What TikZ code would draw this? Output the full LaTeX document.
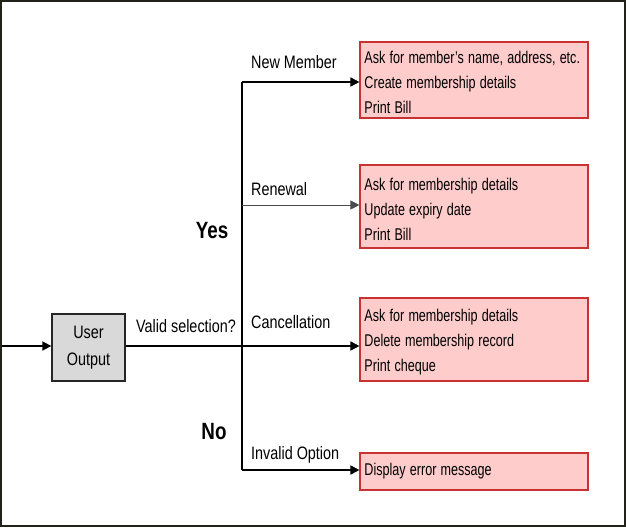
\documentclass[tikz,border=0pt]{standalone}
\usepackage{fontspec}
\setmainfont{Liberation Sans}
\usetikzlibrary{arrows.meta}
\definecolor{framec}{RGB}{34,34,26}
\definecolor{pinkfill}{RGB}{255,204,204}
\definecolor{redline}{RGB}{200,50,50}
\definecolor{grayfill}{RGB}{217,217,217}
\newcommand{\mytopstrut}{\rule{0pt}{17.4pt}}
\begin{document}
\begin{tikzpicture}[x=1pt,y=-1pt,
  narrow/.style={xscale=0.8,transform shape},
  actbox/.style={xscale=0.74,transform shape,draw=redline,line width=1.6pt,fill=pinkfill,minimum width=308pt,
    text width=296pt,align=left,inner xsep=6pt,inner ysep=0pt,
    font=\fontsize{17}{25}\selectfont},
  conn/.style={line width=1.6pt,black},
  arr/.style={line width=1.6pt,black,-{Triangle[length=9pt,width=9pt]}},
  lbl/.style={narrow,anchor=west,inner sep=0pt,font=\fontsize{18}{20}\selectfont},
  big/.style={narrow,inner sep=0pt,font=\fontsize{23.5}{26}\selectfont\bfseries}]
\useasboundingbox (0,0) rectangle (626,528);
\draw[framec,line width=2pt] (1,1) rectangle (624.5,526);

\node[narrow,draw=black!85,line width=1.6pt,fill=grayfill,minimum width=91.25pt,minimum height=67pt,
  inner sep=0pt,align=center,font=\fontsize{18}{27}\selectfont] (uo) at (88.5,347.5) {User\\Output};
\coordinate (start) at (2,346);
\draw[arr] (start) -- (start -| uo.west);

\coordinate (j) at (242,346);
\coordinate (t1) at (242,82);
\coordinate (t2) at (242,205);
\coordinate (t4) at (242,470);
\draw[conn] (uo.east |- j) -- (j);
\draw[conn] (t1) -- (t4);

\node[actbox,minimum height=76pt] (b1) at (474,80)
  {\mytopstrut Ask for member’s name, address, etc.\\Create membership details\\Print Bill};
\node[actbox,minimum height=83pt] (b2) at (474,206.5)
  {\mytopstrut Ask for membership details\\Update expiry date\\Print Bill};
\node[actbox,minimum height=83pt] (b3) at (474,339.5)
  {\mytopstrut Ask for membership details\\Delete membership record\\Print cheque};
\node[actbox,minimum height=37pt] (b4) at (474,471.5)
  {Display error message};

\draw[arr] (t1) -- (t1 -| b1.west);
\draw[line width=0.9pt,black!70,-{Triangle[length=9pt,width=9pt]}] (t2) -- (t2 -| b2.west);
\draw[arr] (j) -- (j -| b3.west);
\draw[arr] (t4) -- (t4 -| b4.west);

\node[lbl] (l1) at (251,62) {New Member};
\node[lbl] (l2) at (251,189) {Renewal};
\node[lbl] (l3) at (251,322) {Cancellation};
\node[lbl] (l4) at (251,455) {Invalid Option};
\node[lbl] (vs) at (136,326) {Valid selection?};

\node[big] (yes) at (212,231) {Yes};
\node[big] (no) at (214,432) {No};
\end{tikzpicture}
\end{document}
